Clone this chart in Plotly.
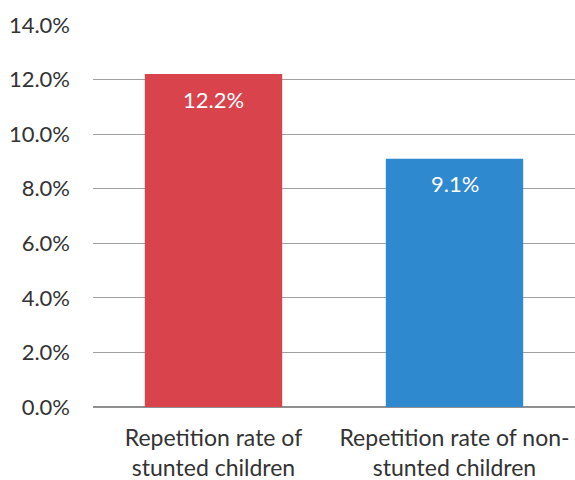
import plotly.graph_objects as go

categories = ["Repetition rate of<br>stunted children", "Repetition rate of non-<br>stunted children"]
values = [12.2, 9.1]
labels = ["12.2%", "9.1%"]
colors = ["#d8434c", "#2f89cf"]
tick_vals = [0, 2, 4, 6, 8, 10, 12, 14]
tick_text = ["0.0%", "2.0%", "4.0%", "6.0%", "8.0%", "10.0%", "12.0%", "14.0%"]

FONT = "Lato, 'Open Sans', sans-serif"
FS = 22

fig = go.Figure()
fig.add_trace(go.Bar(
    x=categories, y=values, marker=dict(color=colors, line=dict(width=0)),
    width=0.57, hoverinfo="skip",
))
for c, v, t in zip(categories, values, labels):
    fig.add_annotation(x=c, y=v, text=t, showarrow=False, yanchor="middle",
                       yshift=-25, font=dict(family=FONT, size=FS, color="white"))

fig.update_layout(
    width=575, height=480,
    margin=dict(l=93, r=0, t=25, b=73),
    paper_bgcolor="white", plot_bgcolor="white",
    showlegend=False,
    font=dict(family=FONT, size=FS, color="#333333"),
    xaxis=dict(showgrid=False, showline=False, ticks="", tickfont=dict(size=FS + 1),
               ticklabelstandoff=15, automargin=False),
    yaxis=dict(range=[0, 14], tickvals=tick_vals, ticktext=tick_text,
               showgrid=True, gridcolor="#a0a0a0", gridwidth=1,
               zeroline=True, zerolinecolor="#909090", zerolinewidth=1.5,
               showline=False, ticks="", ticklabelstandoff=22,
               tickfont=dict(size=FS), automargin=False),
)
fig.write_html("out.html", config={"displayModeBar": False},
               post_script="document.body.style.margin='0';document.body.style.overflow='hidden';")
